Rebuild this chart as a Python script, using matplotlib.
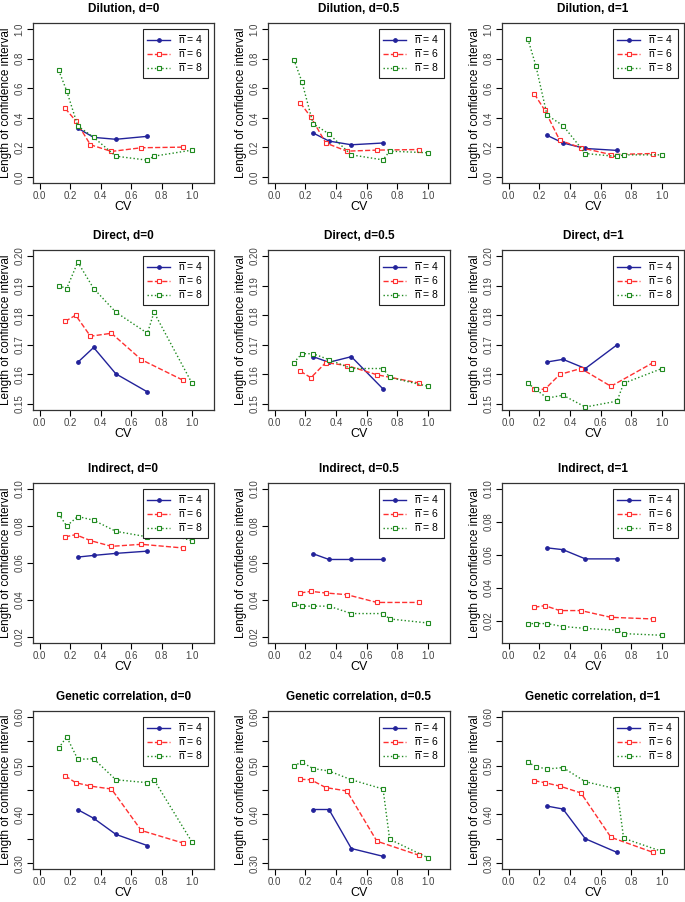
import numpy as np
import matplotlib.pyplot as plt

plt.rcParams['font.family'] = ['Liberation Sans', 'DejaVu Sans']
plt.rcParams['mathtext.fontset'] = 'custom'
plt.rcParams['mathtext.rm'] = 'Liberation Sans'

# CV values for each mean family size
cv_n4 = [0.25, 0.354, 0.5, 0.707]
cv_n6 = [0.167, 0.236, 0.333, 0.471, 0.667, 0.943]
cv_n8 = [0.125, 0.177, 0.25, 0.354, 0.5, 0.707, 0.75, 1.0]

# length of confidence interval: [n=4, n=6, n=8]
dilution_d0 = [[0.33, 0.268, 0.255, 0.275],
               [0.464, 0.38, 0.218, 0.173, 0.198, 0.202],
               [0.72, 0.582, 0.345, 0.268, 0.141, 0.114, 0.141, 0.182]]
dilution_d05 = [[0.298, 0.243, 0.218, 0.23],
                [0.50, 0.405, 0.23, 0.175, 0.182, 0.186],
                [0.793, 0.645, 0.361, 0.291, 0.15, 0.116, 0.175, 0.164]]
dilution_d1 = [[0.282, 0.23, 0.193, 0.18],
               [0.561, 0.45, 0.248, 0.198, 0.152, 0.159],
               [0.932, 0.752, 0.418, 0.348, 0.159, 0.139, 0.15, 0.15]]
direct_d0 = [[0.1641, 0.1691, 0.1602, 0.1541],
             [0.1779, 0.180, 0.1729, 0.1739, 0.165, 0.158],
             [0.190, 0.189, 0.1979, 0.189, 0.181, 0.1739, 0.181, 0.157]]
direct_d05 = [[0.166, 0.1641, 0.166, 0.1551],
              [0.1611, 0.1589, 0.164, 0.163, 0.1599, 0.1571],
              [0.164, 0.167, 0.167, 0.165, 0.162, 0.162, 0.159, 0.156]]
direct_d1 = [[0.1642, 0.1651, 0.162, 0.170],
             [0.155, 0.155, 0.160, 0.162, 0.156, 0.164],
             [0.157, 0.155, 0.152, 0.153, 0.149, 0.151, 0.157, 0.162]]
indirect_d0 = [[0.0632, 0.0641, 0.0652, 0.0664],
               [0.0741, 0.0753, 0.0721, 0.069, 0.0701, 0.0681],
               [0.0864, 0.080, 0.0851, 0.0831, 0.0771, 0.0741, 0.0771, 0.0721]]
indirect_d05 = [[0.065, 0.0619, 0.0619, 0.0619],
                [0.0438, 0.0447, 0.0438, 0.0429, 0.0387, 0.0387],
                [0.0378, 0.0367, 0.0367, 0.0367, 0.0327, 0.0327, 0.0298, 0.0276]]
indirect_d1 = [[0.0642, 0.0631, 0.0575, 0.0575],
               [0.0281, 0.0291, 0.0261, 0.0261, 0.022, 0.021],
               [0.0182, 0.0182, 0.0182, 0.0164, 0.0153, 0.0141, 0.0121, 0.0111]]
genetic_d0 = [[0.4097, 0.392, 0.359, 0.336],
              [0.479, 0.465, 0.458, 0.452, 0.367, 0.341],
              [0.536, 0.559, 0.513, 0.514, 0.471, 0.465, 0.471, 0.343]]
genetic_d05 = [[0.41, 0.41, 0.33, 0.314],
               [0.472, 0.471, 0.455, 0.448, 0.345, 0.316],
               [0.50, 0.507, 0.494, 0.489, 0.471, 0.452, 0.349, 0.311]]
genetic_d1 = [[0.417, 0.411, 0.35, 0.322],
              [0.469, 0.465, 0.458, 0.444, 0.353, 0.322],
              [0.507, 0.498, 0.493, 0.496, 0.467, 0.452, 0.351, 0.324]]

titles = [["Dilution, d=0", "Dilution, d=0.5", "Dilution, d=1"],
          ["Direct, d=0", "Direct, d=0.5", "Direct, d=1"],
          ["Indirect, d=0", "Indirect, d=0.5", "Indirect, d=1"],
          ["Genetic correlation, d=0", "Genetic correlation, d=0.5", "Genetic correlation, d=1"]]
panels = [[dilution_d0, dilution_d05, dilution_d1],
          [direct_d0, direct_d05, direct_d1],
          [indirect_d0, indirect_d05, indirect_d1],
          [genetic_d0, genetic_d05, genetic_d1]]

W, H = 685, 902
fig = plt.figure(figsize=(W / 100, H / 100), dpi=100)

col_px = [(33, 214), (268, 450), (502, 684)]
row_px = [(23, 183), (250, 410), (483, 643), (711, 869)]

series = [(cv_n4, '#22229a', '-', 'o', '#22229a', 2.6, r'$\overline{\mathregular{n}}$ = 4'),
          (cv_n6, '#ff3030', '--', 's', 'white', 3.0, r'$\overline{\mathregular{n}}$ = 6'),
          (cv_n8, '#1f8a1f', ':', 's', 'white', 3.0, r'$\overline{\mathregular{n}}$ = 8')]


def yaxis_setup(ax, row, col):
    if row == 0:
        ax.set_ylim(-0.04, 1.04)
        ticks = np.arange(0, 1.01, 0.2)
        labels = ["%.1f" % t for t in ticks]
    elif row == 1:
        ax.set_ylim(0.148, 0.202)
        ticks = np.arange(0.15, 0.2001, 0.01)
        labels = ["%.2f" % t for t in ticks]
    elif row == 2:
        if col == 2:
            ax.set_ylim(0.0064, 0.1036)
        else:
            ax.set_ylim(0.0168, 0.1032)
        ticks = np.arange(0.02, 0.1001, 0.02)
        labels = ["%.2f" % t for t in ticks]
    else:
        ax.set_ylim(0.288, 0.612)
        ticks = np.arange(0.30, 0.6001, 0.05)
        labels = ["%.2f" % t if i % 2 == 0 else "" for i, t in enumerate(ticks)]
    ax.set_yticks(ticks)
    ax.set_yticklabels(labels, rotation=90, va='center')


for r in range(4):
    for c in range(3):
        x0, x1 = col_px[c]
        y0, y1 = row_px[r]
        ax = fig.add_axes([x0 / W, 1 - y1 / H, (x1 - x0) / W, (y1 - y0) / H])
        data = panels[r][c]
        for (xs, color, ls, mk, mfc, ms, lab), ys in zip(series, data):
            ax.plot(xs, ys, color=color, linestyle=ls, linewidth=1.0,
                    marker=mk, markersize=ms, markerfacecolor=mfc,
                    markeredgecolor=color, markeredgewidth=0.8, label=lab)
        ax.set_xlim(-0.044, 1.144)
        ax.set_xticks(np.arange(0, 1.01, 0.2))
        ax.set_xticklabels(["%.1f" % t for t in np.arange(0, 1.01, 0.2)])
        yaxis_setup(ax, r, c)
        ax.tick_params(direction='out', length=4, width=0.8, labelsize=7,
                       labelcolor='#444444', pad=2)
        for sp in ax.spines.values():
            sp.set_linewidth(0.9)
            sp.set_color('#333333')
        ax.set_title(titles[r][c], fontsize=8.5, fontweight='bold', pad=8)
        ax.set_xlabel("CV", fontsize=9, labelpad=0)
        ax.set_ylabel("Length of confidence interval", fontsize=8.5, labelpad=2)
        leg = ax.legend(loc='upper right', fontsize=7.5, handlelength=2.2,
                        borderaxespad=0.6, labelspacing=0.1, borderpad=0.4,
                        handletextpad=0.8, fancybox=False, framealpha=1)
        leg.get_frame().set_edgecolor('#222222')
        leg.get_frame().set_linewidth(0.8)

fig.savefig("out.png", dpi=100)
plt.close(fig)
